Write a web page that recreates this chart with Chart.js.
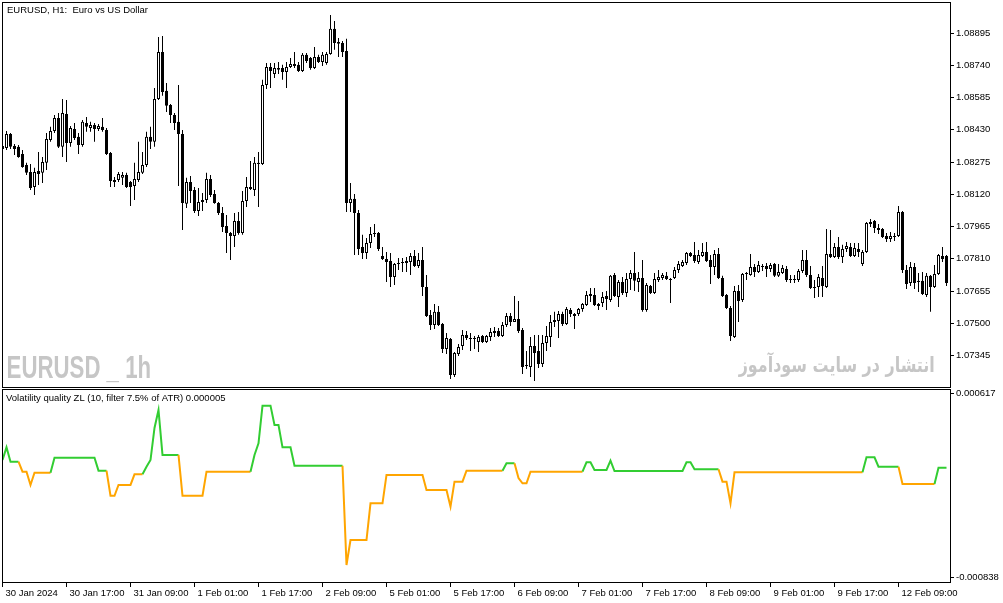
<!DOCTYPE html>
<html><head><meta charset="utf-8">
<script src="https://cdn.jsdelivr.net/npm/chart.js@4.4.1/dist/chart.umd.min.js"></script>
<style>
html,body{margin:0;padding:0;background:#fff;width:1003px;height:603px;overflow:hidden;}
#main{position:absolute;left:0;top:0;}
#sub{position:absolute;left:0;top:388px;}
</style></head><body>
<canvas id="main" width="1003" height="388"></canvas>
<canvas id="sub" width="1003" height="215"></canvas>
<script>
// ---------- DATA (EURUSD H1, bars 0..236) ----------
const openP = [1.08352,1.08343,1.08410,1.08352,1.08348,1.08314,1.08261,1.08227,1.08155,1.08232,
1.08223,1.08271,1.08381,1.08424,1.08487,1.08348,1.08506,1.08367,1.08434,1.08396,
1.08357,1.08463,1.08439,1.08453,1.08434,1.08444,1.08429,1.08319,1.08189,1.08189,
1.08199,1.08213,1.08179,1.08160,1.08189,1.08223,1.08261,1.08396,1.08372,1.08578,
1.08804,1.08617,1.08549,1.08501,1.08468,1.08410,1.08074,1.08179,1.08141,1.08040,
1.08083,1.08093,1.08194,1.08122,1.08078,1.08030,1.07968,1.07934,1.07920,1.07992,
1.07934,1.08088,1.08155,1.08141,1.08266,1.08266,1.08645,1.08732,1.08698,1.08727,
1.08727,1.08708,1.08732,1.08737,1.08742,1.08713,1.08790,1.08775,1.08727,1.08780,
1.08756,1.08751,1.08794,1.08915,1.08852,1.08847,1.08809,1.08078,1.08098,1.08030,
1.07867,1.07838,1.07886,1.07929,1.07934,1.07824,1.07809,1.07800,1.07723,1.07785,
1.07790,1.07790,1.07795,1.07824,1.07776,1.07804,1.07675,1.07540,1.07492,1.07555,
1.07497,1.07377,1.07425,1.07252,1.07353,1.07391,1.07444,1.07425,1.07430,1.07410,
1.07439,1.07410,1.07434,1.07454,1.07463,1.07439,1.07492,1.07535,1.07506,1.07521,
1.07468,1.07300,1.07290,1.07391,1.07367,1.07305,1.07406,1.07434,1.07506,1.07511,
1.07545,1.07497,1.07564,1.07545,1.07545,1.07569,1.07588,1.07641,1.07636,1.07593,
1.07598,1.07631,1.07612,1.07732,1.07627,1.07699,1.07646,1.07713,1.07742,1.07699,
1.07718,1.07564,1.07679,1.07646,1.07708,1.07718,1.07728,1.07713,1.07718,1.07756,
1.07776,1.07790,1.07838,1.07828,1.07795,1.07824,1.07843,1.07804,1.07771,1.07833,
1.07718,1.07636,1.07574,1.07434,1.07655,1.07612,1.07737,1.07732,1.07771,1.07747,
1.07776,1.07776,1.07761,1.07785,1.07728,1.07742,1.07761,1.07713,1.07708,1.07708,
1.07752,1.07804,1.07732,1.07675,1.07675,1.07718,1.07675,1.07833,1.07819,1.07867,
1.07819,1.07857,1.07867,1.07824,1.07857,1.07785,1.07843,1.07987,1.07992,1.07958,
1.07953,1.07920,1.07905,1.07920,1.07920,1.08035,1.07756,1.07694,1.07771,1.07704,
1.07704,1.07636,1.07728,1.07675,1.07737,1.07824,1.07824];

const highP = [1.08367,1.08424,1.08415,1.08362,1.08357,1.08333,1.08271,1.08266,1.08247,1.08323,
1.08299,1.08415,1.08444,1.08501,1.08511,1.08578,1.08573,1.08448,1.08463,1.08415,
1.08477,1.08492,1.08468,1.08463,1.08458,1.08487,1.08439,1.08323,1.08203,1.08227,
1.08227,1.08223,1.08184,1.08271,1.08372,1.08323,1.08420,1.08444,1.08631,1.08876,
1.08881,1.08655,1.08554,1.08511,1.08645,1.08429,1.08199,1.08208,1.08155,1.08150,
1.08126,1.08223,1.08213,1.08141,1.08083,1.08059,1.08021,1.07939,1.08030,1.08035,
1.08136,1.08203,1.08280,1.08299,1.08323,1.08670,1.08751,1.08751,1.08751,1.08756,
1.08742,1.08756,1.08775,1.08804,1.08756,1.08799,1.08799,1.08780,1.08828,1.08790,
1.08804,1.08804,1.08982,1.08953,1.08871,1.08857,1.08867,1.08174,1.08122,1.08045,
1.07925,1.07910,1.07963,1.07977,1.07939,1.07867,1.07843,1.07838,1.07790,1.07814,
1.07814,1.07819,1.07838,1.07852,1.07838,1.07867,1.07732,1.07564,1.07593,1.07583,
1.07502,1.07454,1.07430,1.07362,1.07401,1.07468,1.07463,1.07454,1.07439,1.07444,
1.07444,1.07444,1.07478,1.07482,1.07478,1.07506,1.07550,1.07550,1.07631,1.07607,
1.07478,1.07367,1.07434,1.07444,1.07444,1.07444,1.07487,1.07540,1.07555,1.07559,
1.07555,1.07579,1.07574,1.07550,1.07574,1.07598,1.07655,1.07670,1.07670,1.07598,
1.07651,1.07655,1.07732,1.07742,1.07708,1.07723,1.07742,1.07756,1.07843,1.07747,
1.07804,1.07694,1.07684,1.07742,1.07756,1.07742,1.07747,1.07718,1.07771,1.07800,
1.07804,1.07843,1.07843,1.07891,1.07852,1.07886,1.07891,1.07828,1.07852,1.07862,
1.07728,1.07641,1.07583,1.07679,1.07684,1.07742,1.07747,1.07833,1.07785,1.07800,
1.07785,1.07790,1.07790,1.07790,1.07785,1.07780,1.07776,1.07732,1.07732,1.07761,
1.07852,1.07852,1.07776,1.07708,1.07737,1.07776,1.07953,1.07949,1.07886,1.07915,
1.07877,1.07891,1.07886,1.07886,1.07886,1.07852,1.07987,1.08001,1.07997,1.07977,
1.07958,1.07934,1.07939,1.07934,1.08064,1.08040,1.07780,1.07795,1.07790,1.07742,
1.07747,1.07742,1.07732,1.07780,1.07833,1.07867,1.07828];

const lowP = [1.08328,1.08333,1.08338,1.08309,1.08295,1.08247,1.08213,1.08141,1.08117,1.08165,
1.08174,1.08237,1.08372,1.08415,1.08343,1.08299,1.08275,1.08348,1.08381,1.08314,
1.08348,1.08420,1.08420,1.08372,1.08424,1.08420,1.08309,1.08155,1.08155,1.08179,
1.08165,1.08150,1.08064,1.08093,1.08179,1.08218,1.08251,1.08338,1.08348,1.08573,
1.08593,1.08516,1.08463,1.08429,1.08160,1.07949,1.08054,1.08078,1.08030,1.08016,
1.08040,1.08078,1.08107,1.08074,1.08021,1.07939,1.07838,1.07804,1.07867,1.07925,
1.07925,1.08059,1.08141,1.08112,1.08059,1.08261,1.08626,1.08631,1.08679,1.08698,
1.08670,1.08631,1.08727,1.08727,1.08708,1.08708,1.08751,1.08718,1.08722,1.08751,
1.08737,1.08742,1.08790,1.08814,1.08780,1.08780,1.08035,1.08035,1.07828,1.07828,
1.07809,1.07809,1.07862,1.07915,1.07848,1.07804,1.07699,1.07675,1.07684,1.07756,
1.07747,1.07747,1.07732,1.07771,1.07766,1.07631,1.07530,1.07468,1.07473,1.07487,
1.07357,1.07353,1.07233,1.07242,1.07343,1.07372,1.07420,1.07367,1.07377,1.07362,
1.07406,1.07406,1.07415,1.07434,1.07434,1.07434,1.07482,1.07487,1.07506,1.07454,
1.07257,1.07281,1.07242,1.07223,1.07285,1.07290,1.07367,1.07386,1.07482,1.07430,
1.07487,1.07492,1.07530,1.07473,1.07535,1.07555,1.07583,1.07603,1.07583,1.07564,
1.07579,1.07564,1.07603,1.07627,1.07579,1.07636,1.07627,1.07660,1.07655,1.07651,
1.07555,1.07555,1.07641,1.07641,1.07699,1.07708,1.07708,1.07598,1.07713,1.07742,
1.07771,1.07780,1.07819,1.07790,1.07785,1.07819,1.07795,1.07689,1.07732,1.07713,
1.07627,1.07569,1.07415,1.07430,1.07506,1.07603,1.07708,1.07728,1.07723,1.07742,
1.07752,1.07723,1.07747,1.07723,1.07723,1.07737,1.07699,1.07694,1.07694,1.07699,
1.07742,1.07723,1.07665,1.07622,1.07627,1.07627,1.07670,1.07814,1.07814,1.07809,
1.07790,1.07843,1.07819,1.07819,1.07819,1.07776,1.07838,1.07963,1.07934,1.07929,
1.07910,1.07891,1.07891,1.07896,1.07915,1.07742,1.07665,1.07679,1.07665,1.07651,
1.07636,1.07627,1.07555,1.07670,1.07732,1.07795,1.07679];

const closeP = [1.08338,1.08410,1.08348,1.08338,1.08299,1.08251,1.08223,1.08150,1.08227,1.08218,
1.08275,1.08386,1.08424,1.08487,1.08348,1.08511,1.08367,1.08439,1.08391,1.08357,
1.08468,1.08444,1.08453,1.08434,1.08448,1.08429,1.08314,1.08184,1.08179,1.08218,
1.08213,1.08155,1.08155,1.08194,1.08227,1.08261,1.08396,1.08372,1.08578,1.08804,
1.08612,1.08545,1.08501,1.08463,1.08410,1.08078,1.08179,1.08136,1.08040,1.08083,
1.08093,1.08194,1.08117,1.08078,1.08030,1.07963,1.07934,1.07920,1.07992,1.07934,
1.08088,1.08155,1.08146,1.08271,1.08271,1.08645,1.08732,1.08713,1.08727,1.08718,
1.08708,1.08732,1.08746,1.08746,1.08713,1.08790,1.08761,1.08727,1.08780,1.08756,
1.08790,1.08794,1.08915,1.08847,1.08843,1.08804,1.08078,1.08098,1.08030,1.07857,
1.07838,1.07886,1.07929,1.07934,1.07857,1.07809,1.07795,1.07723,1.07785,1.07790,
1.07795,1.07800,1.07824,1.07776,1.07804,1.07675,1.07535,1.07492,1.07555,1.07492,
1.07377,1.07430,1.07252,1.07357,1.07386,1.07444,1.07430,1.07430,1.07425,1.07434,
1.07410,1.07439,1.07458,1.07463,1.07439,1.07492,1.07535,1.07506,1.07521,1.07463,
1.07290,1.07295,1.07391,1.07357,1.07305,1.07406,1.07439,1.07506,1.07516,1.07545,
1.07497,1.07569,1.07545,1.07535,1.07569,1.07593,1.07636,1.07631,1.07588,1.07583,
1.07627,1.07617,1.07728,1.07631,1.07699,1.07646,1.07713,1.07742,1.07704,1.07718,
1.07564,1.07684,1.07646,1.07713,1.07723,1.07732,1.07713,1.07708,1.07756,1.07785,
1.07795,1.07838,1.07824,1.07800,1.07828,1.07843,1.07800,1.07771,1.07833,1.07718,
1.07631,1.07574,1.07439,1.07655,1.07607,1.07737,1.07742,1.07771,1.07747,1.07780,
1.07771,1.07761,1.07780,1.07728,1.07747,1.07766,1.07708,1.07708,1.07713,1.07752,
1.07804,1.07732,1.07670,1.07670,1.07723,1.07679,1.07833,1.07819,1.07867,1.07819,
1.07857,1.07872,1.07824,1.07862,1.07843,1.07843,1.07982,1.07977,1.07958,1.07949,
1.07915,1.07905,1.07920,1.07915,1.08035,1.07756,1.07689,1.07771,1.07694,1.07699,
1.07641,1.07728,1.07675,1.07737,1.07828,1.07809,1.07694];

// Volatility quality ZL values per bar
const vqValues = [0.000088,0.000188,0.000075,0.000075,0.000075,-0.000004,-0.000004,-0.000109,-0.000012,-0.000012,
-0.000012,-0.000012,-0.000012,0.000106,0.000106,0.000106,0.000106,0.000106,0.000106,0.000106,
0.000106,0.000106,0.000106,0.000106,0.000004,0.000004,0.000004,-0.000194,-0.000194,-0.000109,
-0.000109,-0.000109,-0.000109,-0.000025,-0.000025,-0.000025,0.000035,0.000088,0.000341,0.000483,
0.000128,0.000128,0.000128,0.000128,0.000128,-0.000194,-0.000194,-0.000194,-0.000194,-0.000194,
-0.000194,-0.000004,-0.000004,-0.000004,-0.000004,-0.000004,-0.000004,-0.000004,-0.000004,-0.000004,
-0.000004,-0.000004,-0.000004,0.000128,0.000220,0.000517,0.000517,0.000517,0.000364,0.000364,
0.000188,0.000188,0.000188,0.000043,0.000043,0.000043,0.000043,0.000043,0.000043,0.000043,
0.000043,0.000043,0.000043,0.000043,0.000043,0.000043,-0.000741,-0.000544,-0.000544,-0.000544,
-0.000544,-0.000544,-0.000254,-0.000254,-0.000254,-0.000254,-0.000030,-0.000030,-0.000030,-0.000030,
-0.000030,-0.000030,-0.000030,-0.000030,-0.000030,-0.000030,-0.000149,-0.000149,-0.000149,-0.000149,
-0.000149,-0.000149,-0.000281,-0.000083,-0.000083,-0.000083,0.000004,0.000004,0.000004,0.000004,
0.000004,0.000004,0.000004,0.000004,0.000004,0.000004,0.000062,0.000062,0.000062,-0.000054,
-0.000096,-0.000096,-0.000004,-0.000004,-0.000004,-0.000004,-0.000004,-0.000004,-0.000004,-0.000004,
-0.000004,-0.000004,-0.000004,-0.000004,-0.000004,-0.000004,0.000070,0.000070,0.000009,0.000009,
0.000009,0.000009,0.000083,0.000001,0.000001,0.000001,0.000001,0.000001,0.000001,0.000001,
0.000001,0.000001,0.000001,0.000001,0.000001,0.000001,0.000001,0.000001,0.000001,0.000001,
0.000001,0.000070,0.000070,0.000015,0.000015,0.000015,0.000015,0.000015,0.000015,0.000015,
-0.000083,-0.000083,-0.000254,-0.000009,-0.000009,-0.000009,-0.000009,-0.000009,-0.000009,-0.000009,
-0.000009,-0.000009,-0.000009,-0.000009,-0.000009,-0.000009,-0.000009,-0.000009,-0.000009,-0.000009,
-0.000009,-0.000009,-0.000009,-0.000009,-0.000009,-0.000009,-0.000009,-0.000009,-0.000009,-0.000009,
-0.000009,-0.000009,-0.000009,-0.000009,-0.000009,-0.000009,0.000109,0.000109,0.000109,0.000035,
0.000035,0.000035,0.000035,0.000035,0.000035,-0.000101,-0.000101,-0.000101,-0.000101,-0.000101,
-0.000101,-0.000101,-0.000101,-0.000101,0.000027,0.000027,0.000027];

// trend state of the segment ending at each bar: 1 = up (green), -1 = down (orange)
const vqTrend = [1,1,1,1,1,-1,-1,-1,-1,-1,
-1,-1,-1,1,1,1,1,1,1,1,
1,1,1,1,1,1,1,-1,-1,-1,
-1,-1,-1,-1,-1,-1,1,1,1,1,
1,1,1,1,1,-1,-1,-1,-1,-1,
-1,-1,-1,-1,-1,-1,-1,-1,-1,-1,
-1,-1,-1,1,1,1,1,1,1,1,
1,1,1,1,1,1,1,1,1,1,
1,1,1,1,1,1,-1,-1,-1,-1,
-1,-1,-1,-1,-1,-1,-1,-1,-1,-1,
-1,-1,-1,-1,-1,-1,-1,-1,-1,-1,
-1,-1,-1,-1,-1,-1,-1,-1,-1,-1,
-1,-1,-1,-1,-1,-1,1,1,1,-1,
-1,-1,-1,-1,-1,-1,-1,-1,-1,-1,
-1,-1,-1,-1,-1,-1,1,1,1,1,
1,1,1,1,1,1,1,1,1,1,
1,1,1,1,1,1,1,1,1,1,
1,1,1,1,1,1,1,1,1,1,
-1,-1,-1,-1,-1,-1,-1,-1,-1,-1,
-1,-1,-1,-1,-1,-1,-1,-1,-1,-1,
-1,-1,-1,-1,-1,-1,-1,-1,-1,-1,
-1,-1,-1,-1,-1,-1,1,1,1,1,
1,1,1,1,1,-1,-1,-1,-1,-1,
-1,-1,-1,-1,1,1,1];

const priceTicks = [1.07345,1.07500,1.07655,1.07810,1.07965,1.08120,1.08275,1.08430,1.08585,1.08740,1.08895];
const vqTicks = [-0.000838, 0.000617];
const xTickBars = [0,16,32,48,64,80,96,112,128,144,160,176,192,208,224];
const xTickLabels = ['30 Jan 2024','30 Jan 17:00','31 Jan 09:00','1 Feb 01:00','1 Feb 17:00','2 Feb 09:00','5 Feb 01:00','5 Feb 17:00','6 Feb 09:00','7 Feb 01:00','7 Feb 17:00','8 Feb 09:00','9 Feb 01:00','9 Feb 17:00','12 Feb 09:00'];

const mainTitle = 'EURUSD, H1:  Euro vs US Dollar';
const subTitle = 'Volatility quality ZL (10, filter 7.5% of ATR) 0.000005';
const watermark1 = 'EURUSD _ 1h';
const watermark2 = 'انتشار در سایت سودآموز';

// ---------- RENDERING ----------
const FONT = "'Liberation Sans', Arial, sans-serif";
Chart.defaults.font.family = FONT;
Chart.defaults.font.size = 9.5;
Chart.defaults.color = '#000';

const barIdx = openP.map((_, i) => i);
const bodyData = barIdx.map(i => ({x: i, y: [openP[i], closeP[i]]}));
const wickData = barIdx.map(i => ({x: i, y: [lowP[i], highP[i]]}));
const bodyFill = barIdx.map(i => closeP[i] >= openP[i] ? '#ffffff' : '#000000');

function fitText(ctx, text, font, x0, y0, x1, y1, color) {
  ctx.save();
  ctx.font = font;
  ctx.textAlign = 'left';
  ctx.textBaseline = 'alphabetic';
  const m = ctx.measureText(text);
  const bw = m.actualBoundingBoxLeft + m.actualBoundingBoxRight;
  const bh = m.actualBoundingBoxAscent + m.actualBoundingBoxDescent;
  ctx.translate(x0, y0);
  ctx.scale((x1 - x0) / bw, (y1 - y0) / bh);
  ctx.fillStyle = color;
  ctx.fillText(text, m.actualBoundingBoxLeft, m.actualBoundingBoxAscent);
  ctx.restore();
}

function frame(chart) {
  const {ctx, chartArea: a} = chart;
  ctx.save();
  ctx.strokeStyle = '#000';
  ctx.lineWidth = 1;
  ctx.strokeRect(a.left + 0.5, a.top + 0.5, a.right - a.left, a.bottom - a.top);
  ctx.restore();
}

const mainDecor = {
  id: 'mainDecor',
  beforeDatasetsDraw(chart) {
    const ctx = chart.ctx;
    fitText(ctx, watermark1, "bold 32px 'Liberation Sans Narrow', 'Liberation Sans'", 8, 356, 150, 383, '#c6c6c6');
    fitText(ctx, watermark2, "bold 24px 'DejaVu Sans'", 738, 352, 934, 377, '#c6c6c6');
  },
  afterDraw(chart) {
    frame(chart);
    const ctx = chart.ctx;
    ctx.save();
    ctx.fillStyle = '#000';
    ctx.font = '9.5px ' + FONT;
    ctx.textBaseline = 'alphabetic';
    ctx.fillText(mainTitle, 7, 13);
    ctx.restore();
  }
};

const subDecor = {
  id: 'subDecor',
  afterDraw(chart) {
    frame(chart);
    const ctx = chart.ctx;
    ctx.save();
    ctx.fillStyle = '#000';
    ctx.font = '9.5px ' + FONT;
    ctx.textBaseline = 'alphabetic';
    ctx.fillText(subTitle, 6, 13);
    ctx.restore();
  }
};

const GREEN = '#32cd32', ORANGE = '#ffa500';

new Chart(document.getElementById('main'), {
  type: 'bar',
  data: {
    datasets: [
      { label: 'body', data: bodyData, order: 0, grouped: false,
        barThickness: 3, maxBarThickness: 3, minBarLength: 1,
        backgroundColor: bodyFill, borderColor: '#000', borderWidth: 1,
        borderSkipped: false, inflateAmount: 0 },
      { label: 'wick', data: wickData, order: 1, grouped: false,
        barThickness: 1, maxBarThickness: 1,
        backgroundColor: '#000', borderWidth: 0, inflateAmount: 0 }
    ]
  },
  options: {
    responsive: false, animation: false, devicePixelRatio: 1, events: [],
    layout: {padding: {left: 2, top: 2, right: 0, bottom: 1}},
    plugins: {legend: {display: false}, tooltip: {enabled: false}},
    scales: {
      x: {type: 'linear', display: false, min: -0.125, max: 236.875, offset: false},
      y: {
        type: 'linear', position: 'right', min: 1.07194, max: 1.09044,
        afterBuildTicks: s => { s.ticks = priceTicks.map(v => ({value: v})); },
        afterFit: s => { s.width = 53; s.paddingTop = 0; s.paddingBottom = 0; },
        ticks: {callback: v => Number(v).toFixed(5), padding: 2, color: '#000'},
        grid: {drawOnChartArea: false, drawTicks: true, tickLength: 4, color: '#000'},
        border: {display: false}
      }
    }
  },
  plugins: [mainDecor]
});

new Chart(document.getElementById('sub'), {
  type: 'line',
  data: {
    datasets: [{
      label: 'VQ ZL',
      data: barIdx.map(i => ({x: i, y: vqValues[i]})),
      borderWidth: 2, pointRadius: 0, tension: 0, fill: false,
      borderColor: GREEN,
      segment: { borderColor: c => vqTrend[c.p1DataIndex] > 0 ? GREEN : ORANGE }
    }]
  },
  options: {
    responsive: false, animation: false, devicePixelRatio: 1, events: [],
    layout: {padding: {left: 2, top: 1, right: 0, bottom: 0}},
    plugins: {legend: {display: false}, tooltip: {enabled: false}},
    scales: {
      x: {
        type: 'linear', min: -0.125, max: 236.875, offset: false,
        afterBuildTicks: s => { s.ticks = xTickBars.map(v => ({value: v})); },
        afterFit: s => { s.height = 21; s.paddingLeft = 0; s.paddingRight = 0; },
        ticks: {callback: v => xTickLabels[xTickBars.indexOf(v)], align: 'start', labelOffset: 3,
                padding: 1, maxRotation: 0, minRotation: 0, autoSkip: false, color: '#000'},
        grid: {drawOnChartArea: false, drawTicks: true, tickLength: 5, color: '#000'},
        border: {display: false}
      },
      y: {
        type: 'linear', position: 'right', min: -0.0008751, max: 0.0006486,
        afterBuildTicks: s => { s.ticks = vqTicks.map(v => ({value: v})); },
        afterFit: s => { s.width = 53; s.paddingTop = 0; s.paddingBottom = 0; },
        ticks: {callback: v => Number(v).toFixed(6), padding: 2, color: '#000'},
        grid: {drawOnChartArea: false, drawTicks: true, tickLength: 4, color: '#000'},
        border: {display: false}
      }
    }
  },
  plugins: [subDecor]
});
</script>
</body></html>
